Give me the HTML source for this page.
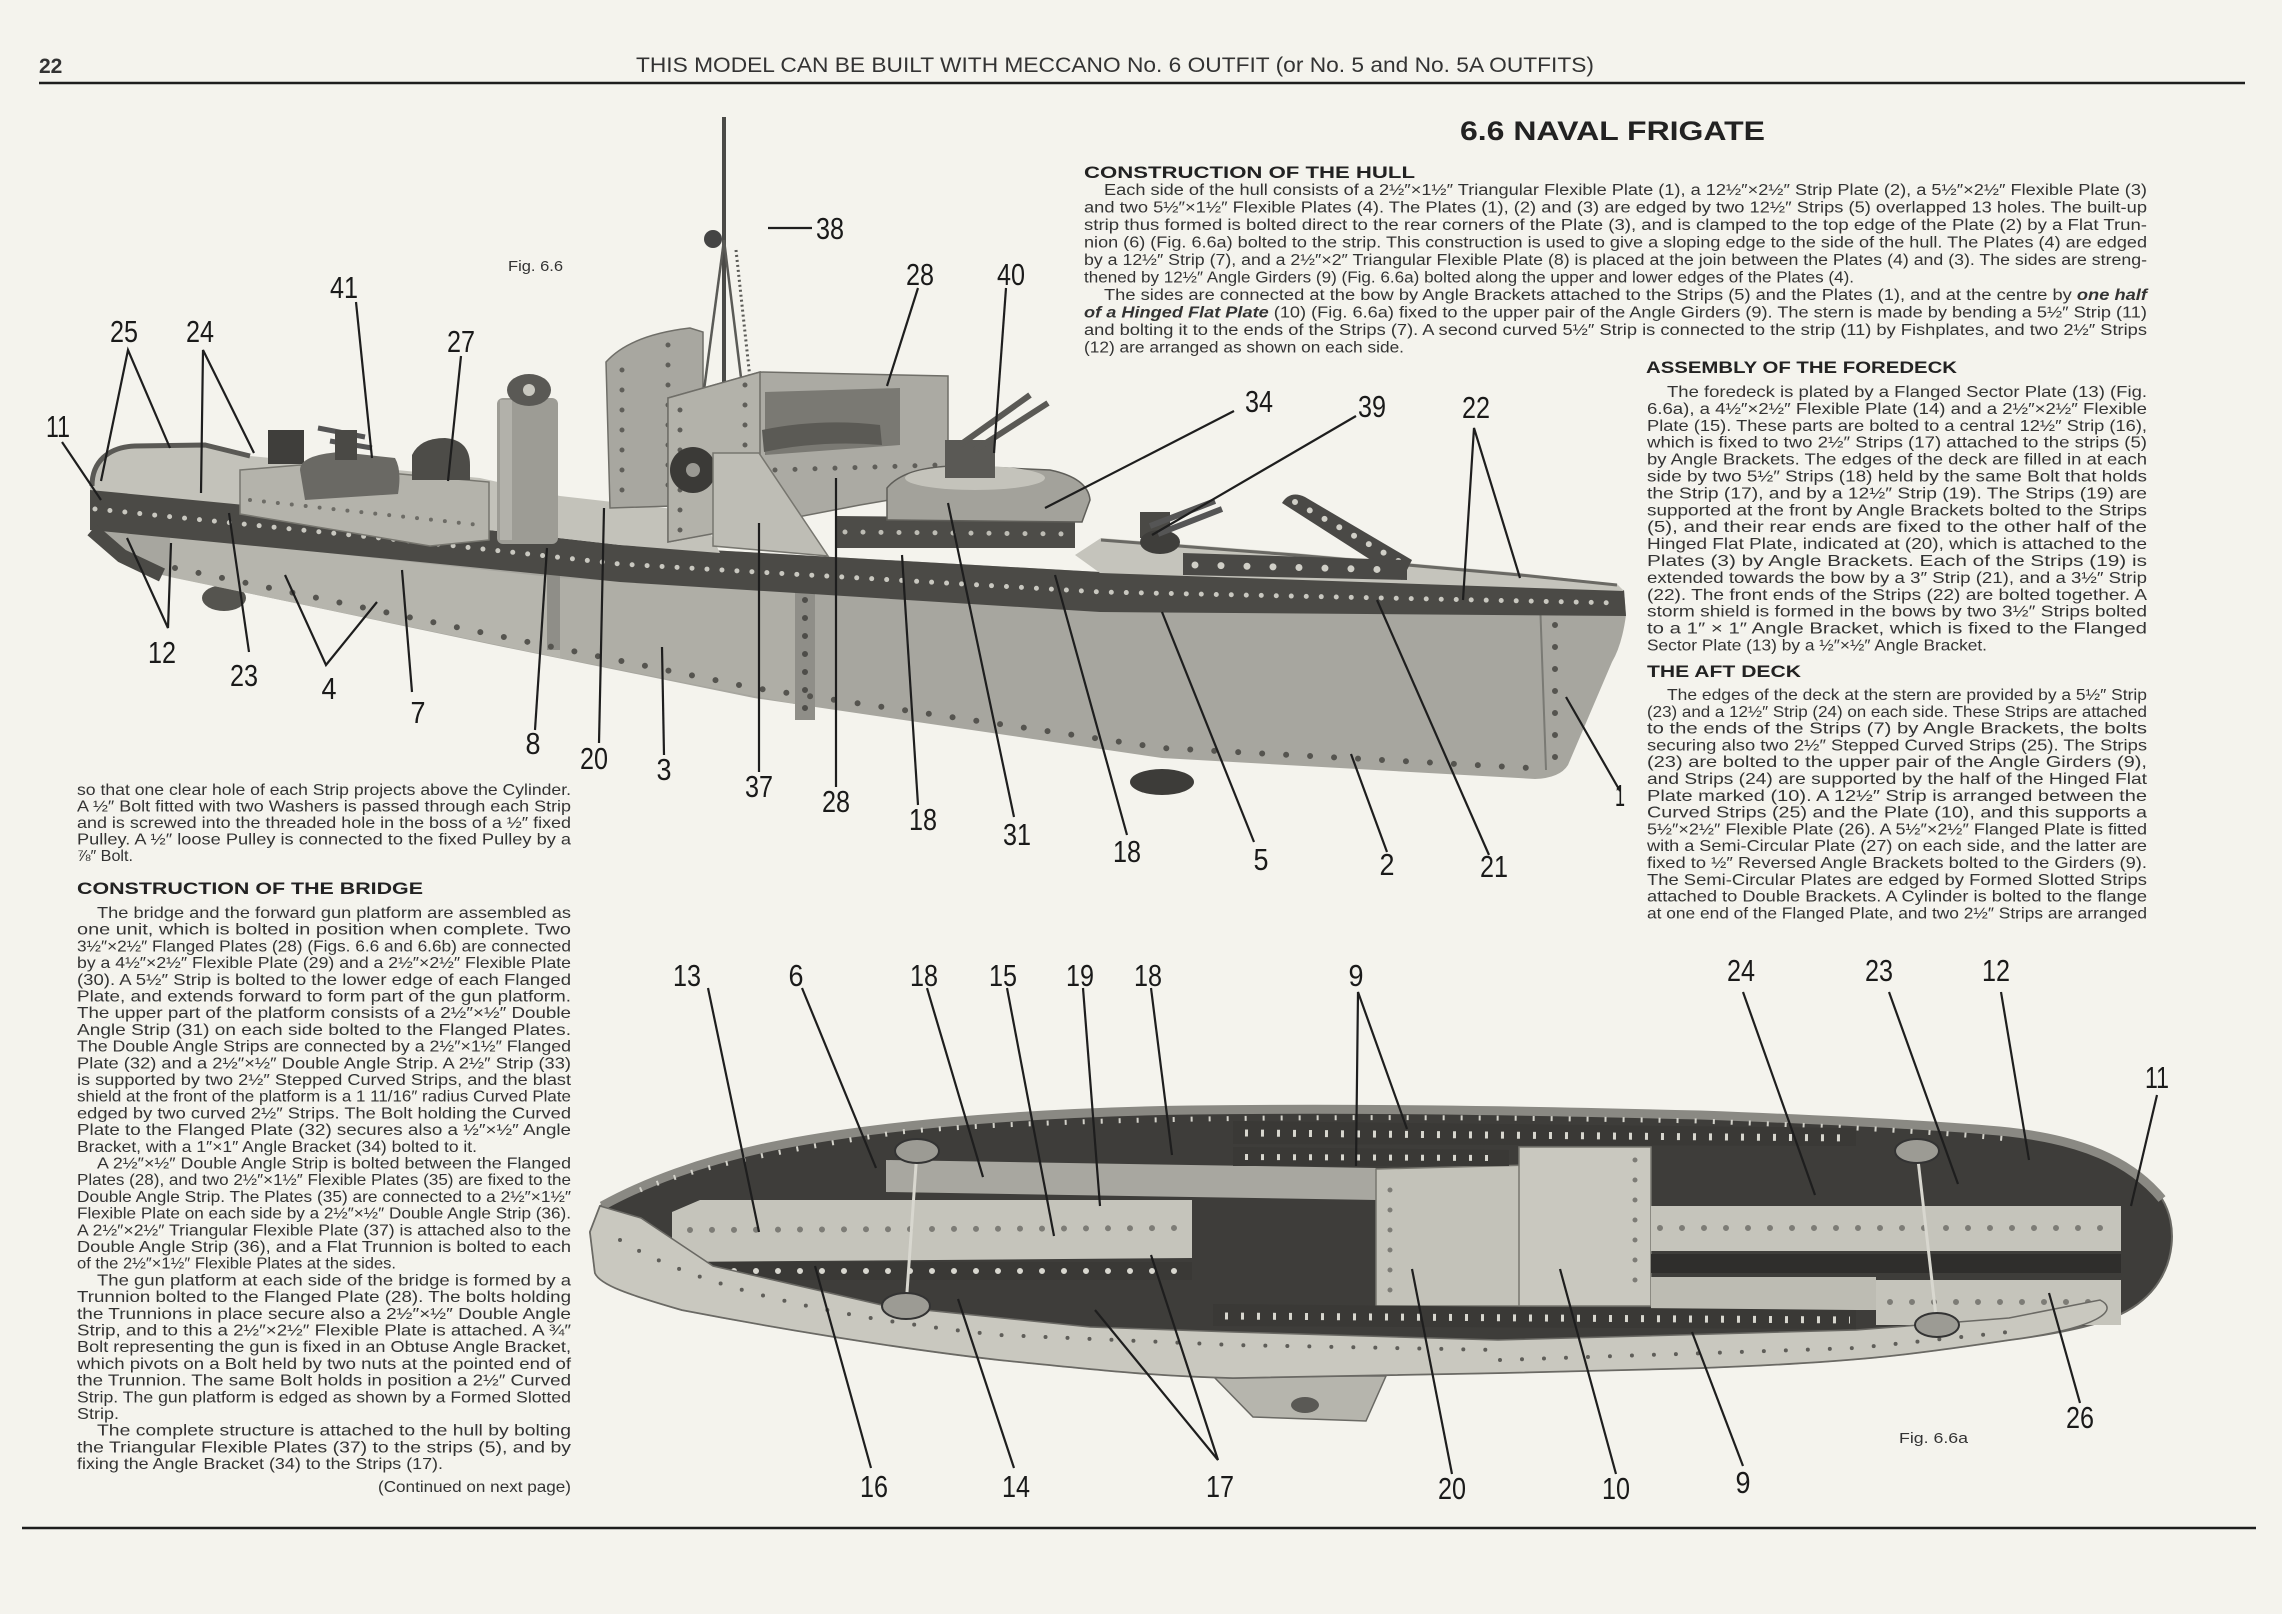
<!DOCTYPE html>
<html>
<head>
<meta charset="utf-8">
<style>
html,body{margin:0;padding:0;background:#f4f3ed;}
body{width:2282px;height:1614px;overflow:hidden;}
svg{display:block;}
text{font-family:"Liberation Sans","DejaVu Sans",sans-serif;fill:#333333;}
.b{font-size:16px;}
.h{font-size:15.5px;}
.hd{font-size:17px;font-weight:bold;fill:#222;}
.lb{font-size:31px;fill:#1a1a1a;text-anchor:middle;}
.ld{stroke:#1e1e1e;stroke-width:2.2;fill:none;}
</style>
</head>
<body>
<svg width="2282" height="1614" viewBox="0 0 2282 1614" xmlns="http://www.w3.org/2000/svg">
<rect width="2282" height="1614" fill="#f4f3ed"/>

<!-- Header -->
<text x="39" y="73" font-size="21" font-weight="bold">22</text>
<text x="636" y="72" font-size="21" textLength="958" lengthAdjust="spacingAndGlyphs">THIS MODEL CAN BE BUILT WITH MECCANO No. 6 OUTFIT (or No. 5 and No. 5A OUTFITS)</text>
<line x1="39" y1="83" x2="2245" y2="83" stroke="#1e1e1e" stroke-width="2.5"/>
<text x="1460" y="140" font-size="27" font-weight="bold" textLength="305" lengthAdjust="spacingAndGlyphs" style="fill:#222">6.6 NAVAL FRIGATE</text>

<!-- ===== TOP SHIP (Fig 6.6) ===== -->
<g>
<ellipse cx="1162" cy="782" rx="32" ry="13" fill="#3d3c39"/>
<ellipse cx="224" cy="598" rx="22" ry="13" fill="#55544f"/>
<path d="M 90,488 L 92,530 L 122,556 L 162,575 L 489,644 L 754,698 L 1162,758 L 1535,779 Q 1560,778 1568,765 L 1612,662 Q 1622,645 1626,615 L 1624,590 L 1100,572 L 620,545 L 400,520 Z" fill="#a7a69f"/>
<path d="M 170,536 L 560,578 L 560,658 L 170,577 Z" fill="#b6b5ad"/>
<path d="M 560,578 L 800,592 L 800,705 L 560,658 Z" fill="#afaea6"/>
<path d="M 1540,600 L 1546,770" stroke="#7a7a74" stroke-width="2"/>
<rect x="795" y="590" width="20" height="130" fill="#8f8e88"/>
<rect x="547" y="550" width="13" height="100" fill="#8f8e88"/>
<path d="M 175,568 L 489,634 L 754,688 L 1162,748 L 1530,768" stroke="#55544f" stroke-width="6" stroke-dasharray="0 24" stroke-linecap="round" fill="none"/>
<path d="M 1555,625 L 1555,760" stroke="#55544f" stroke-width="6" stroke-dasharray="0 22" stroke-linecap="round" fill="none"/>
<path d="M 805,600 L 805,715" stroke="#4e4d49" stroke-width="6" stroke-dasharray="0 18" stroke-linecap="round" fill="none"/>
<path d="M 90,488 L 400,520 L 620,545 L 1100,572 L 1624,590 L 1626,616 L 1100,612 L 620,582 L 400,560 L 90,530 Z" fill="#4b4a46"/>
<path d="M 92,530 L 122,556 L 162,575" stroke="#4b4a46" stroke-width="14" fill="none"/>
<path d="M 95,509 L 400,540 L 620,564 L 1100,592 L 1620,603" stroke="#c9c8c0" stroke-width="5" stroke-dasharray="0 15" stroke-linecap="round" fill="none"/>
<path d="M 90,490 C 90,462 108,447 135,446 L 205,445 L 250,456 L 480,478 L 560,496 L 700,512 L 720,553 L 620,545 L 400,520 Z" fill="#c3c2ba"/>
<path d="M 92,486 C 92,462 108,447 135,446 L 205,445 L 250,456" stroke="#5a5955" stroke-width="5" fill="none"/>
<path d="M 240,470 L 300,465 L 489,482 L 489,540 L 430,546 L 240,514 Z" fill="#b4b3ab" stroke="#77766f" stroke-width="1.5"/>
<path d="M 250,500 L 480,525" stroke="#6d6c66" stroke-width="4" stroke-dasharray="0 14" stroke-linecap="round"/>
<rect x="268" y="430" width="36" height="34" fill="#3f3e3b"/>
<path d="M 300,470 Q 300,455 340,452 L 395,458 Q 402,470 398,494 L 305,500 Z" fill="#6a6964"/>
<line x1="318" y1="428" x2="365" y2="437" stroke="#555" stroke-width="5"/>
<line x1="330" y1="441" x2="372" y2="448" stroke="#555" stroke-width="5"/>
<rect x="335" y="430" width="22" height="30" fill="#4a4945"/>
<path d="M 412,480 L 412,455 Q 420,438 445,438 Q 470,440 470,465 L 470,480 Z" fill="#4d4c48"/>
<rect x="497" y="398" width="61" height="146" rx="6" fill="#9d9c95"/>
<rect x="500" y="400" width="12" height="140" fill="#b2b1aa"/>
<ellipse cx="529" cy="390" rx="22" ry="16" fill="#5a5955"/>
<circle cx="529" cy="390" r="6" fill="#c9c8c0"/>
<path d="M 606,362 Q 630,335 690,328 L 703,332 L 703,505 L 610,508 Z" fill="#a8a7a0" stroke="#6f6e68" stroke-width="1.5"/>
<path d="M 622,370 L 622,500 M 668,345 L 668,500" stroke="#5f5e59" stroke-width="5" stroke-dasharray="0 20" stroke-linecap="round"/>
<line x1="724" y1="117" x2="724" y2="400" stroke="#4a4a47" stroke-width="4"/>
<line x1="724" y1="240" x2="700" y2="420" stroke="#5a5a56" stroke-width="2.5"/>
<line x1="724" y1="240" x2="745" y2="410" stroke="#5a5a56" stroke-width="2.5"/>
<line x1="736" y1="250" x2="760" y2="470" stroke="#5a5a56" stroke-width="3" stroke-dasharray="2 3"/>
<circle cx="713" cy="239" r="9" fill="#444"/>
<path d="M 668,398 L 760,372 L 948,376 L 948,490 L 860,505 L 668,542 Z" fill="#abaaa3" stroke="#6f6e68" stroke-width="1.5"/>
<path d="M 765,392 L 900,388 L 900,445 L 765,455 Z" fill="#7a7973"/>
<path d="M 762,430 Q 820,418 880,425 L 882,445 Q 820,440 764,452 Z" fill="#5b5a55"/>
<path d="M 668,398 L 760,372 L 760,525 L 668,542 Z" fill="#b3b2aa" stroke="#6f6e68" stroke-width="1.5"/>
<path d="M 680,410 L 680,535 M 745,385 L 745,520" stroke="#5f5e59" stroke-width="5" stroke-dasharray="0 20" stroke-linecap="round"/>
<path d="M 775,470 L 940,465" stroke="#5f5e59" stroke-width="5" stroke-dasharray="0 20" stroke-linecap="round"/>
<circle cx="693" cy="470" r="23" fill="#3b3a37"/>
<circle cx="693" cy="470" r="7" fill="#9a9993"/>
<path d="M 713,453 L 759,453 L 828,556 L 713,546 Z" fill="#bebdb5" stroke="#77766f" stroke-width="1.5"/>
<path d="M 836,516 L 1075,518 L 1075,548 L 836,548 Z" fill="#4d4c48"/>
<path d="M 845,532 L 1070,534" stroke="#bdbcb4" stroke-width="5" stroke-dasharray="0 18" stroke-linecap="round"/>
<path d="M 887,520 L 887,488 Q 905,466 960,466 L 1050,470 Q 1088,478 1090,500 L 1082,522 Z" fill="#a3a29b" stroke="#5f5e59" stroke-width="1.5"/>
<ellipse cx="975" cy="478" rx="70" ry="12" fill="#c4c3bb"/>
<rect x="945" y="440" width="50" height="38" fill="#5a5955"/>
<line x1="960" y1="445" x2="1030" y2="395" stroke="#5a5955" stroke-width="6"/>
<line x1="975" y1="450" x2="1048" y2="403" stroke="#5a5955" stroke-width="6"/>
<path d="M 1075,555 L 1101,538 L 1295,553 L 1520,573 L 1617,584 L 1624,591 L 1100,573 Z" fill="#c5c4bc"/>
<path d="M 1101,540 L 1295,555 L 1520,575 L 1617,585" stroke="#6a6964" stroke-width="3" fill="none"/>
<rect x="1140" y="512" width="30" height="26" fill="#4a4945"/>
<ellipse cx="1160" cy="542" rx="20" ry="12" fill="#3f3e3b"/>
<line x1="1150" y1="526" x2="1215" y2="501" stroke="#555" stroke-width="6"/>
<line x1="1158" y1="534" x2="1222" y2="509" stroke="#555" stroke-width="6"/>
<path d="M 1282,503 Q 1290,490 1305,497 L 1412,560 L 1402,580 Z" fill="#4a4946"/>
<path d="M 1295,502 L 1400,562" stroke="#d0cfc7" stroke-width="6" stroke-dasharray="0 17" stroke-linecap="round"/>
<path d="M 1183,553 L 1407,560 L 1407,580 L 1183,575 Z" fill="#4a4946"/>
<path d="M 1195,565 L 1400,570" stroke="#d0cfc7" stroke-width="7" stroke-dasharray="0 26" stroke-linecap="round"/>
</g>

<g class="ld">
<path d="M 768,228 L 812,228"/>
<path d="M 356,302 L 372,458"/>
<path d="M 101,481 L 128,350 L 170,448"/>
<path d="M 201,493 L 203,350 L 254,453"/>
<path d="M 461,356 L 448,481"/>
<path d="M 918,288 L 887,386"/>
<path d="M 1006,288 L 994,453"/>
<path d="M 62,442 L 101,500"/>
<path d="M 1234,411 L 1045,508"/>
<path d="M 1356,416 L 1152,535"/>
<path d="M 1463,600 L 1474,428 L 1520,578"/>
<path d="M 127,538 L 168,628 L 171,543"/>
<path d="M 249,652 L 229,513"/>
<path d="M 285,575 L 326,665 L 377,602"/>
<path d="M 412,692 L 402,570"/>
<path d="M 535,730 L 547,548"/>
<path d="M 599,743 L 604,508"/>
<path d="M 664,755 L 662,647"/>
<path d="M 759,772 L 759,523"/>
<path d="M 836,787 L 836,478"/>
<path d="M 918,805 L 902,555"/>
<path d="M 1014,817 L 948,503"/>
<path d="M 1127,835 L 1055,575"/>
<path d="M 1254,842 L 1162,612"/>
<path d="M 1387,852 L 1351,754"/>
<path d="M 1489,855 L 1377,600"/>
<path d="M 1620,791 L 1566,697"/>
</g>
<g>
<text class="lb" x="830" y="239" textLength="28" lengthAdjust="spacingAndGlyphs">38</text>
<text class="lb" x="344" y="298" textLength="28" lengthAdjust="spacingAndGlyphs">41</text>
<text class="lb" x="124" y="342" textLength="28" lengthAdjust="spacingAndGlyphs">25</text>
<text class="lb" x="200" y="342" textLength="28" lengthAdjust="spacingAndGlyphs">24</text>
<text class="lb" x="461" y="352" textLength="28" lengthAdjust="spacingAndGlyphs">27</text>
<text class="lb" x="920" y="285" textLength="28" lengthAdjust="spacingAndGlyphs">28</text>
<text class="lb" x="1011" y="285" textLength="28" lengthAdjust="spacingAndGlyphs">40</text>
<text class="lb" x="58" y="437" textLength="24" lengthAdjust="spacingAndGlyphs">11</text>
<text class="lb" x="1259" y="412" textLength="28" lengthAdjust="spacingAndGlyphs">34</text>
<text class="lb" x="1372" y="417" textLength="28" lengthAdjust="spacingAndGlyphs">39</text>
<text class="lb" x="1476" y="418" textLength="28" lengthAdjust="spacingAndGlyphs">22</text>
<text class="lb" x="162" y="663" textLength="28" lengthAdjust="spacingAndGlyphs">12</text>
<text class="lb" x="244" y="686" textLength="28" lengthAdjust="spacingAndGlyphs">23</text>
<text class="lb" x="329" y="699" textLength="15" lengthAdjust="spacingAndGlyphs">4</text>
<text class="lb" x="418" y="723" textLength="15" lengthAdjust="spacingAndGlyphs">7</text>
<text class="lb" x="533" y="754" textLength="15" lengthAdjust="spacingAndGlyphs">8</text>
<text class="lb" x="594" y="769" textLength="28" lengthAdjust="spacingAndGlyphs">20</text>
<text class="lb" x="664" y="780" textLength="15" lengthAdjust="spacingAndGlyphs">3</text>
<text class="lb" x="759" y="797" textLength="28" lengthAdjust="spacingAndGlyphs">37</text>
<text class="lb" x="836" y="812" textLength="28" lengthAdjust="spacingAndGlyphs">28</text>
<text class="lb" x="923" y="830" textLength="28" lengthAdjust="spacingAndGlyphs">18</text>
<text class="lb" x="1017" y="845" textLength="28" lengthAdjust="spacingAndGlyphs">31</text>
<text class="lb" x="1127" y="862" textLength="28" lengthAdjust="spacingAndGlyphs">18</text>
<text class="lb" x="1261" y="870" textLength="15" lengthAdjust="spacingAndGlyphs">5</text>
<text class="lb" x="1387" y="875" textLength="15" lengthAdjust="spacingAndGlyphs">2</text>
<text class="lb" x="1494" y="877" textLength="28" lengthAdjust="spacingAndGlyphs">21</text>
<text class="lb" x="1620" y="806" textLength="10" lengthAdjust="spacingAndGlyphs">1</text>
</g>
<text x="508" y="271" font-size="15" textLength="55" lengthAdjust="spacingAndGlyphs">Fig. 6.6</text>

<!-- ===== BOTTOM SHIP (Fig 6.6a) ===== -->
<g>
<path d="M 1213,1376 L 1386,1376 L 1366,1421 L 1253,1417 Z" fill="#b6b5ad" stroke="#6a6964" stroke-width="1.5"/>
<ellipse cx="1305" cy="1405" rx="14" ry="8" fill="#5a5955"/>
<path d="M 590,1232 L 600,1206 C 640,1185 700,1160 784,1144 C 900,1122 1050,1112 1192,1110 C 1350,1108 1500,1110 1700,1115 C 1856,1121 1950,1126 2009,1132 C 2080,1140 2130,1160 2162,1199 C 2178,1225 2175,1265 2151,1292 C 2130,1315 2100,1328 2009,1340 C 1900,1356 1856,1362 1700,1368 L 1498,1373 L 1233,1378 C 1150,1376 1090,1369 1000,1360 C 886,1347 760,1325 682,1310 C 630,1295 600,1285 595,1273 Z" fill="#3e3d3a" stroke="#6a6964" stroke-width="2"/>
<path d="M 602,1206 C 640,1185 700,1160 784,1144 C 900,1122 1050,1112 1192,1110 C 1350,1108 1500,1110 1700,1115 C 1856,1121 1950,1126 2009,1132 C 2080,1140 2130,1160 2162,1199" stroke="#8a8983" stroke-width="9" fill="none"/>
<path d="M 640,1190 C 700,1165 784,1150 900,1132 C 1050,1118 1350,1114 1700,1121 C 1856,1127 1950,1133 2009,1139" stroke="#d3d2ca" stroke-width="5" stroke-dasharray="2 16" fill="none"/>
<path d="M 886,1160 L 1376,1168 L 1376,1200 L 886,1192 Z" fill="#a8a7a0"/>
<path d="M 672,1212 L 700,1200 L 1192,1200 L 1192,1258 L 672,1262 Z" fill="#c5c4bb"/>
<path d="M 1376,1169 L 1529,1165 L 1529,1306 L 1376,1306 Z" fill="#c3c2b9" stroke="#77766f" stroke-width="1.5"/>
<path d="M 1519,1147 L 1651,1147 L 1651,1306 L 1519,1306 Z" fill="#c9c8bf" stroke="#77766f" stroke-width="1.5"/>
<rect x="1651" y="1206" width="470" height="45" fill="#c5c4bb"/>
<rect x="1651" y="1277" width="225" height="33" fill="#bdbcb3"/>
<rect x="1876" y="1280" width="245" height="45" fill="#c5c4bb"/>
<path d="M 1233,1121 L 1856,1128 L 1856,1146 L 1233,1144 Z" fill="#3a3936"/>
<path d="M 1245,1133 L 1850,1138" stroke="#d8d7cf" stroke-width="7" stroke-dasharray="3 13" fill="none"/>
<path d="M 1233,1147 L 1509,1150 L 1509,1166 L 1233,1166 Z" fill="#3a3936"/>
<path d="M 1245,1157 L 1500,1158" stroke="#d8d7cf" stroke-width="6" stroke-dasharray="3 13" fill="none"/>
<path d="M 1213,1304 L 1856,1310 L 1856,1329 L 1213,1326 Z" fill="#3a3936"/>
<path d="M 1225,1316 L 1850,1320" stroke="#d8d7cf" stroke-width="7" stroke-dasharray="3 13" fill="none"/>
<rect x="1651" y="1254" width="470" height="19" fill="#2f2e2c"/>
<path d="M 682,1262 L 1192,1262 L 1192,1280 L 682,1280 Z" fill="#3a3936"/>
<path d="M 690,1271 L 1185,1271" stroke="#d8d7cf" stroke-width="6" stroke-dasharray="0 22" stroke-linecap="round" fill="none"/>
<path d="M 690,1230 L 1185,1228 M 1660,1228 L 2110,1228 M 1890,1302 L 2110,1302" stroke="#7d7c76" stroke-width="6" stroke-dasharray="0 22" stroke-linecap="round" fill="none"/>
<path d="M 1390,1190 L 1390,1300 M 1635,1160 L 1635,1300" stroke="#7d7c76" stroke-width="5" stroke-dasharray="0 20" stroke-linecap="round" fill="none"/>
<path d="M 600,1206 L 641,1218 L 713,1266 L 886,1306 L 1090,1327 L 1233,1332 L 1498,1340 L 1856,1330 L 2009,1318 L 2100,1300 C 2120,1310 2100,1328 2009,1340 C 1900,1356 1856,1362 1700,1368 L 1498,1373 L 1233,1378 C 1150,1376 1090,1369 1000,1360 C 886,1347 760,1325 682,1310 C 630,1295 600,1285 595,1273 L 590,1232 Z" fill="#c9c8bf" stroke="#6a6964" stroke-width="1.5"/>
<path d="M 620,1240 C 700,1290 850,1320 1000,1335 L 1233,1345 L 1500,1350" stroke="#5f5e59" stroke-width="4" stroke-dasharray="0 22" stroke-linecap="round" fill="none"/>
<path d="M 1500,1360 L 1856,1348 L 2009,1332" stroke="#5f5e59" stroke-width="4" stroke-dasharray="0 22" stroke-linecap="round" fill="none"/>
<line x1="917" y1="1151" x2="906" y2="1306" stroke="#d8d7cf" stroke-width="3"/>
<line x1="1917" y1="1151" x2="1937" y2="1325" stroke="#d8d7cf" stroke-width="3"/>
<ellipse cx="917" cy="1151" rx="22" ry="12" fill="#9c9b94" stroke="#333" stroke-width="2"/>
<ellipse cx="906" cy="1306" rx="24" ry="13" fill="#9c9b94" stroke="#333" stroke-width="2"/>
<ellipse cx="1917" cy="1151" rx="22" ry="12" fill="#9c9b94" stroke="#333" stroke-width="2"/>
<ellipse cx="1937" cy="1325" rx="22" ry="12" fill="#9c9b94" stroke="#333" stroke-width="2"/>
</g>

<g class="ld">
<path d="M 708,988 L 759,1232"/>
<path d="M 802,988 L 876,1168"/>
<path d="M 927,988 L 983,1177"/>
<path d="M 1007,988 L 1054,1236"/>
<path d="M 1083,988 L 1100,1206"/>
<path d="M 1151,988 L 1172,1155"/>
<path d="M 1356,1166 L 1358,992 L 1407,1129"/>
<path d="M 1743,992 L 1815,1195"/>
<path d="M 1889,992 L 1958,1184"/>
<path d="M 2001,992 L 2029,1160"/>
<path d="M 2157,1095 L 2131,1206"/>
<path d="M 2080,1403 L 2049,1293"/>
<path d="M 871,1468 L 815,1266"/>
<path d="M 1014,1468 L 958,1299"/>
<path d="M 1095,1310 L 1218,1460 L 1151,1255"/>
<path d="M 1452,1474 L 1412,1269"/>
<path d="M 1616,1474 L 1560,1269"/>
<path d="M 1743,1466 L 1692,1332"/>
</g>
<g>
<text class="lb" x="687" y="986" textLength="28" lengthAdjust="spacingAndGlyphs">13</text>
<text class="lb" x="796" y="986" textLength="15" lengthAdjust="spacingAndGlyphs">6</text>
<text class="lb" x="924" y="986" textLength="28" lengthAdjust="spacingAndGlyphs">18</text>
<text class="lb" x="1003" y="986" textLength="28" lengthAdjust="spacingAndGlyphs">15</text>
<text class="lb" x="1080" y="986" textLength="28" lengthAdjust="spacingAndGlyphs">19</text>
<text class="lb" x="1148" y="986" textLength="28" lengthAdjust="spacingAndGlyphs">18</text>
<text class="lb" x="1356" y="986" textLength="15" lengthAdjust="spacingAndGlyphs">9</text>
<text class="lb" x="1741" y="981" textLength="28" lengthAdjust="spacingAndGlyphs">24</text>
<text class="lb" x="1879" y="981" textLength="28" lengthAdjust="spacingAndGlyphs">23</text>
<text class="lb" x="1996" y="981" textLength="28" lengthAdjust="spacingAndGlyphs">12</text>
<text class="lb" x="2157" y="1088" textLength="24" lengthAdjust="spacingAndGlyphs">11</text>
<text class="lb" x="2080" y="1428" textLength="28" lengthAdjust="spacingAndGlyphs">26</text>
<text class="lb" x="874" y="1497" textLength="28" lengthAdjust="spacingAndGlyphs">16</text>
<text class="lb" x="1016" y="1497" textLength="28" lengthAdjust="spacingAndGlyphs">14</text>
<text class="lb" x="1220" y="1497" textLength="28" lengthAdjust="spacingAndGlyphs">17</text>
<text class="lb" x="1452" y="1499" textLength="28" lengthAdjust="spacingAndGlyphs">20</text>
<text class="lb" x="1616" y="1499" textLength="28" lengthAdjust="spacingAndGlyphs">10</text>
<text class="lb" x="1743" y="1493" textLength="15" lengthAdjust="spacingAndGlyphs">9</text>
</g>
<text x="1899" y="1443" font-size="15" textLength="69" lengthAdjust="spacingAndGlyphs">Fig. 6.6a</text>

<!-- ===== HULL TEXT ===== -->
<text class="hd" x="1084" y="178" textLength="331" lengthAdjust="spacingAndGlyphs">CONSTRUCTION OF THE HULL</text>
<text class="h" x="1104" y="195" textLength="1043" lengthAdjust="spacingAndGlyphs">Each side of the hull consists of a 2½″×1½″ Triangular Flexible Plate (1), a 12½″×2½″ Strip Plate (2), a 5½″×2½″ Flexible Plate (3)</text>
<text class="h" x="1084" y="212.5" textLength="1063" lengthAdjust="spacingAndGlyphs">and two 5½″×1½″ Flexible Plates (4). The Plates (1), (2) and (3) are edged by two 12½″ Strips (5) overlapped 13 holes. The built-up</text>
<text class="h" x="1084" y="230" textLength="1063" lengthAdjust="spacingAndGlyphs">strip thus formed is bolted direct to the rear corners of the Plate (3), and is clamped to the top edge of the Plate (2) by a Flat Trun-</text>
<text class="h" x="1084" y="247.5" textLength="1063" lengthAdjust="spacingAndGlyphs">nion (6) (Fig. 6.6a) bolted to the strip. This construction is used to give a sloping edge to the side of the hull. The Plates (4) are edged</text>
<text class="h" x="1084" y="265" textLength="1063" lengthAdjust="spacingAndGlyphs">by a 12½″ Strip (7), and a 2½″×2″ Triangular Flexible Plate (8) is placed at the join between the Plates (4) and (3). The sides are streng-</text>
<text class="h" x="1084" y="282.5" textLength="770" lengthAdjust="spacingAndGlyphs">thened by 12½″ Angle Girders (9) (Fig. 6.6a) bolted along the upper and lower edges of the Plates (4).</text>
<text class="h" x="1104" y="300" textLength="1043" lengthAdjust="spacingAndGlyphs">The sides are connected at the bow by Angle Brackets attached to the Strips (5) and the Plates (1), and at the centre by <tspan font-weight="bold" font-style="italic">one half</tspan></text>
<text class="h" x="1084" y="317.5" textLength="1063" lengthAdjust="spacingAndGlyphs"><tspan font-weight="bold" font-style="italic">of a Hinged Flat Plate</tspan> (10) (Fig. 6.6a) fixed to the upper pair of the Angle Girders (9). The stern is made by bending a 5½″ Strip (11)</text>
<text class="h" x="1084" y="335" textLength="1063" lengthAdjust="spacingAndGlyphs">and bolting it to the ends of the Strips (7). A second curved 5½″ Strip is connected to the strip (11) by Fishplates, and two 2½″ Strips</text>
<text class="h" x="1084" y="352.5" textLength="320" lengthAdjust="spacingAndGlyphs">(12) are arranged as shown on each side.</text>

<!-- ===== FOREDECK ===== -->
<text class="hd" x="1646" y="373" textLength="311" lengthAdjust="spacingAndGlyphs">ASSEMBLY OF THE FOREDECK</text>
<text class="b" x="1667" y="397" textLength="480" lengthAdjust="spacingAndGlyphs">The foredeck is plated by a Flanged Sector Plate (13) (Fig.</text>
<text class="b" x="1647" y="413.9" textLength="500" lengthAdjust="spacingAndGlyphs">6.6a), a 4½″×2½″ Flexible Plate (14) and a 2½″×2½″ Flexible</text>
<text class="b" x="1647" y="430.8" textLength="500" lengthAdjust="spacingAndGlyphs">Plate (15). These parts are bolted to a central 12½″ Strip (16),</text>
<text class="b" x="1647" y="447.7" textLength="500" lengthAdjust="spacingAndGlyphs">which is fixed to two 2½″ Strips (17) attached to the strips (5)</text>
<text class="b" x="1647" y="464.6" textLength="500" lengthAdjust="spacingAndGlyphs">by Angle Brackets. The edges of the deck are filled in at each</text>
<text class="b" x="1647" y="481.5" textLength="500" lengthAdjust="spacingAndGlyphs">side by two 5½″ Strips (18) held by the same Bolt that holds</text>
<text class="b" x="1647" y="498.4" textLength="500" lengthAdjust="spacingAndGlyphs">the Strip (17), and by a 12½″ Strip (19). The Strips (19) are</text>
<text class="b" x="1647" y="515.3" textLength="500" lengthAdjust="spacingAndGlyphs">supported at the front by Angle Brackets bolted to the Strips</text>
<text class="b" x="1647" y="532.2" textLength="500" lengthAdjust="spacingAndGlyphs">(5), and their rear ends are fixed to the other half of the</text>
<text class="b" x="1647" y="549.1" textLength="500" lengthAdjust="spacingAndGlyphs">Hinged Flat Plate, indicated at (20), which is attached to the</text>
<text class="b" x="1647" y="566" textLength="500" lengthAdjust="spacingAndGlyphs">Plates (3) by Angle Brackets. Each of the Strips (19) is</text>
<text class="b" x="1647" y="582.9" textLength="500" lengthAdjust="spacingAndGlyphs">extended towards the bow by a 3″ Strip (21), and a 3½″ Strip</text>
<text class="b" x="1647" y="599.8" textLength="500" lengthAdjust="spacingAndGlyphs">(22). The front ends of the Strips (22) are bolted together. A</text>
<text class="b" x="1647" y="616.7" textLength="500" lengthAdjust="spacingAndGlyphs">storm shield is formed in the bows by two 3½″ Strips bolted</text>
<text class="b" x="1647" y="633.6" textLength="500" lengthAdjust="spacingAndGlyphs">to a 1″ × 1″ Angle Bracket, which is fixed to the Flanged</text>
<text class="b" x="1647" y="650.5" textLength="340" lengthAdjust="spacingAndGlyphs">Sector Plate (13) by a ½″×½″ Angle Bracket.</text>

<!-- ===== AFT DECK ===== -->
<text class="hd" x="1647" y="677" textLength="154" lengthAdjust="spacingAndGlyphs">THE AFT DECK</text>
<text class="b" x="1667" y="700" textLength="480" lengthAdjust="spacingAndGlyphs">The edges of the deck at the stern are provided by a 5½″ Strip</text>
<text class="b" x="1647" y="716.8" textLength="500" lengthAdjust="spacingAndGlyphs">(23) and a 12½″ Strip (24) on each side. These Strips are attached</text>
<text class="b" x="1647" y="733.6" textLength="500" lengthAdjust="spacingAndGlyphs">to the ends of the Strips (7) by Angle Brackets, the bolts</text>
<text class="b" x="1647" y="750.4" textLength="500" lengthAdjust="spacingAndGlyphs">securing also two 2½″ Stepped Curved Strips (25). The Strips</text>
<text class="b" x="1647" y="767.2" textLength="500" lengthAdjust="spacingAndGlyphs">(23) are bolted to the upper pair of the Angle Girders (9),</text>
<text class="b" x="1647" y="784" textLength="500" lengthAdjust="spacingAndGlyphs">and Strips (24) are supported by the half of the Hinged Flat</text>
<text class="b" x="1647" y="800.8" textLength="500" lengthAdjust="spacingAndGlyphs">Plate marked (10). A 12½″ Strip is arranged between the</text>
<text class="b" x="1647" y="817.6" textLength="500" lengthAdjust="spacingAndGlyphs">Curved Strips (25) and the Plate (10), and this supports a</text>
<text class="b" x="1647" y="834.4" textLength="500" lengthAdjust="spacingAndGlyphs">5½″×2½″ Flexible Plate (26). A 5½″×2½″ Flanged Plate is fitted</text>
<text class="b" x="1647" y="851.2" textLength="500" lengthAdjust="spacingAndGlyphs">with a Semi-Circular Plate (27) on each side, and the latter are</text>
<text class="b" x="1647" y="868" textLength="500" lengthAdjust="spacingAndGlyphs">fixed to ½″ Reversed Angle Brackets bolted to the Girders (9).</text>
<text class="b" x="1647" y="884.8" textLength="500" lengthAdjust="spacingAndGlyphs">The Semi-Circular Plates are edged by Formed Slotted Strips</text>
<text class="b" x="1647" y="901.6" textLength="500" lengthAdjust="spacingAndGlyphs">attached to Double Brackets. A Cylinder is bolted to the flange</text>
<text class="b" x="1647" y="918.4" textLength="500" lengthAdjust="spacingAndGlyphs">at one end of the Flanged Plate, and two 2½″ Strips are arranged</text>

<!-- ===== LEFT COLUMN ===== -->
<text class="b" x="77" y="795" textLength="494" lengthAdjust="spacingAndGlyphs">so that one clear hole of each Strip projects above the Cylinder.</text>
<text class="b" x="77" y="811.5" textLength="494" lengthAdjust="spacingAndGlyphs">A ½″ Bolt fitted with two Washers is passed through each Strip</text>
<text class="b" x="77" y="828" textLength="494" lengthAdjust="spacingAndGlyphs">and is screwed into the threaded hole in the boss of a ½″ fixed</text>
<text class="b" x="77" y="844.5" textLength="494" lengthAdjust="spacingAndGlyphs">Pulley. A ½″ loose Pulley is connected to the fixed Pulley by a</text>
<text class="b" x="77" y="861" textLength="56" lengthAdjust="spacingAndGlyphs">⅞″ Bolt.</text>

<text class="hd" x="77" y="894" textLength="346" lengthAdjust="spacingAndGlyphs">CONSTRUCTION OF THE BRIDGE</text>
<text class="b" x="97" y="918" textLength="474" lengthAdjust="spacingAndGlyphs">The bridge and the forward gun platform are assembled as</text>
<text class="b" x="77" y="934.7" textLength="494" lengthAdjust="spacingAndGlyphs">one unit, which is bolted in position when complete. Two</text>
<text class="b" x="77" y="951.4" textLength="494" lengthAdjust="spacingAndGlyphs">3½″×2½″ Flanged Plates (28) (Figs. 6.6 and 6.6b) are connected</text>
<text class="b" x="77" y="968.1" textLength="494" lengthAdjust="spacingAndGlyphs">by a 4½″×2½″ Flexible Plate (29) and a 2½″×2½″ Flexible Plate</text>
<text class="b" x="77" y="984.8" textLength="494" lengthAdjust="spacingAndGlyphs">(30). A 5½″ Strip is bolted to the lower edge of each Flanged</text>
<text class="b" x="77" y="1001.5" textLength="494" lengthAdjust="spacingAndGlyphs">Plate, and extends forward to form part of the gun platform.</text>
<text class="b" x="77" y="1018.2" textLength="494" lengthAdjust="spacingAndGlyphs">The upper part of the platform consists of a 2½″×½″ Double</text>
<text class="b" x="77" y="1034.9" textLength="494" lengthAdjust="spacingAndGlyphs">Angle Strip (31) on each side bolted to the Flanged Plates.</text>
<text class="b" x="77" y="1051.6" textLength="494" lengthAdjust="spacingAndGlyphs">The Double Angle Strips are connected by a 2½″×1½″ Flanged</text>
<text class="b" x="77" y="1068.3" textLength="494" lengthAdjust="spacingAndGlyphs">Plate (32) and a 2½″×½″ Double Angle Strip. A 2½″ Strip (33)</text>
<text class="b" x="77" y="1085" textLength="494" lengthAdjust="spacingAndGlyphs">is supported by two 2½″ Stepped Curved Strips, and the blast</text>
<text class="b" x="77" y="1101.7" textLength="494" lengthAdjust="spacingAndGlyphs">shield at the front of the platform is a 1 11/16″ radius Curved Plate</text>
<text class="b" x="77" y="1118.4" textLength="494" lengthAdjust="spacingAndGlyphs">edged by two curved 2½″ Strips. The Bolt holding the Curved</text>
<text class="b" x="77" y="1135.1" textLength="494" lengthAdjust="spacingAndGlyphs">Plate to the Flanged Plate (32) secures also a ½″×½″ Angle</text>
<text class="b" x="77" y="1151.8" textLength="400" lengthAdjust="spacingAndGlyphs">Bracket, with a 1″×1″ Angle Bracket (34) bolted to it.</text>
<text class="b" x="97" y="1168.5" textLength="474" lengthAdjust="spacingAndGlyphs">A 2½″×½″ Double Angle Strip is bolted between the Flanged</text>
<text class="b" x="77" y="1185.2" textLength="494" lengthAdjust="spacingAndGlyphs">Plates (28), and two 2½″×1½″ Flexible Plates (35) are fixed to the</text>
<text class="b" x="77" y="1201.9" textLength="494" lengthAdjust="spacingAndGlyphs">Double Angle Strip. The Plates (35) are connected to a 2½″×1½″</text>
<text class="b" x="77" y="1218.6" textLength="494" lengthAdjust="spacingAndGlyphs">Flexible Plate on each side by a 2½″×½″ Double Angle Strip (36).</text>
<text class="b" x="77" y="1235.3" textLength="494" lengthAdjust="spacingAndGlyphs">A 2½″×2½″ Triangular Flexible Plate (37) is attached also to the</text>
<text class="b" x="77" y="1252" textLength="494" lengthAdjust="spacingAndGlyphs">Double Angle Strip (36), and a Flat Trunnion is bolted to each</text>
<text class="b" x="77" y="1268.7" textLength="319" lengthAdjust="spacingAndGlyphs">of the 2½″×1½″ Flexible Plates at the sides.</text>
<text class="b" x="97" y="1285.4" textLength="474" lengthAdjust="spacingAndGlyphs">The gun platform at each side of the bridge is formed by a</text>
<text class="b" x="77" y="1302.1" textLength="494" lengthAdjust="spacingAndGlyphs">Trunnion bolted to the Flanged Plate (28). The bolts holding</text>
<text class="b" x="77" y="1318.8" textLength="494" lengthAdjust="spacingAndGlyphs">the Trunnions in place secure also a 2½″×½″ Double Angle</text>
<text class="b" x="77" y="1335.5" textLength="494" lengthAdjust="spacingAndGlyphs">Strip, and to this a 2½″×2½″ Flexible Plate is attached. A ¾″</text>
<text class="b" x="77" y="1352.2" textLength="494" lengthAdjust="spacingAndGlyphs">Bolt representing the gun is fixed in an Obtuse Angle Bracket,</text>
<text class="b" x="77" y="1368.9" textLength="494" lengthAdjust="spacingAndGlyphs">which pivots on a Bolt held by two nuts at the pointed end of</text>
<text class="b" x="77" y="1385.6" textLength="494" lengthAdjust="spacingAndGlyphs">the Trunnion. The same Bolt holds in position a 2½″ Curved</text>
<text class="b" x="77" y="1402.3" textLength="494" lengthAdjust="spacingAndGlyphs">Strip. The gun platform is edged as shown by a Formed Slotted</text>
<text class="b" x="77" y="1419" textLength="42" lengthAdjust="spacingAndGlyphs">Strip.</text>
<text class="b" x="97" y="1435.7" textLength="474" lengthAdjust="spacingAndGlyphs">The complete structure is attached to the hull by bolting</text>
<text class="b" x="77" y="1452.4" textLength="494" lengthAdjust="spacingAndGlyphs">the Triangular Flexible Plates (37) to the strips (5), and by</text>
<text class="b" x="77" y="1469.1" textLength="366" lengthAdjust="spacingAndGlyphs">fixing the Angle Bracket (34) to the Strips (17).</text>
<text class="b" x="378" y="1492" textLength="193" lengthAdjust="spacingAndGlyphs">(Continued on next page)</text>

<line x1="22" y1="1528" x2="2256" y2="1528" stroke="#1e1e1e" stroke-width="2.5"/>
</svg>
</body>
</html>
